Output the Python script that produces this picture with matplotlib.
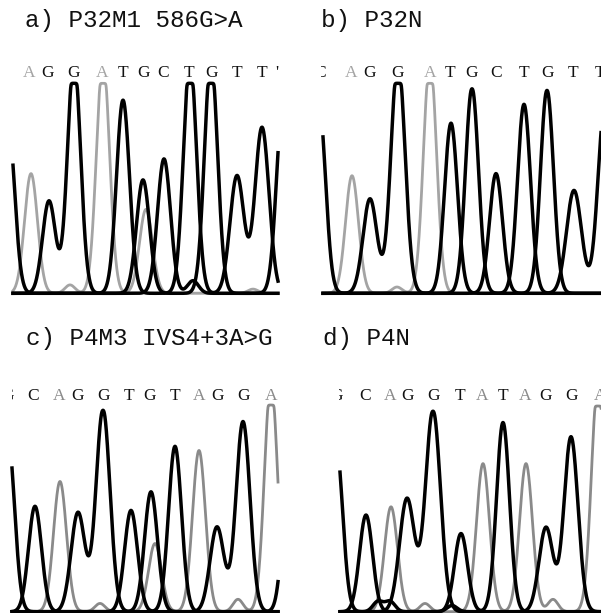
import numpy as np
import matplotlib
matplotlib.use("Agg")
import matplotlib.pyplot as plt

# ---------------- data ----------------
# peak positions are scan positions relative to the left end of each trace window
TITLES = ["a) P32M1 586G>A", "b) P32N", "c) P4M3 IVS4+3A>G", "d) P4N"]

A_PEAK_POS = [-5, 18, 36, 57, 61, 90, 110, 130, 133, 151, 177, 180, 198, 224, 240, 249, 270]
A_PEAK_HEIGHT = [0.82, 0.57, 0.44, 0.04, 1.12, 1.12, 0.92, 0.54, 0.40, 0.64, 1.12, 0.06, 1.12, 0.56, 0.02, 0.79, 0.90]
A_PEAK_WIDTH = [6.5, 6.5, 6.5, 5, 6.5, 6.5, 6.5, 6.5, 6.5, 6.5, 6.5, 5.5, 6.5, 7, 5, 7, 6.5]
A_PEAK_BASE = ["C", "A", "G", "A", "G", "A", "T", "G", "A", "C", "T", "C", "G", "T", "A", "T", "G"]
A_CALLS = ["A", "G", "G", "A", "T", "G", "C", "T", "G", "T", "T", "'"]
A_CALL_POS = [16, 35, 61, 89, 110, 130, 150, 176, 198, 224, 249, 264]

B_PEAK_POS = [-4, 29, 47, 74, 75, 107, 128, 149, 173, 201, 224, 251, 282]
B_PEAK_HEIGHT = [0.90, 0.56, 0.45, 0.03, 1.12, 1.12, 0.81, 0.98, 0.57, 0.90, 0.97, 0.49, 0.90]
B_PEAK_WIDTH = [6.5, 6.5, 7, 5, 7, 6.5, 6.5, 6.5, 6.5, 6.5, 6.5, 7.5, 7]
B_PEAK_BASE = ["C", "A", "G", "A", "G", "A", "T", "G", "C", "T", "G", "T", "T"]
B_CALLS = ["C", "A", "G", "G", "A", "T", "G", "C", "T", "G", "T", "T"]
B_CALL_POS = [-3, 28, 47, 75, 107, 127, 149, 173, 201, 224, 250, 277]

C_PEAK_POS = [-4, 23, 48, 66, 88, 91, 119, 139, 143, 163, 187, 205, 226, 231, 259, 278]
C_PEAK_HEIGHT = [0.84, 0.51, 0.63, 0.48, 0.04, 0.98, 0.49, 0.58, 0.33, 0.80, 0.78, 0.41, 0.06, 0.92, 1.12, 0.80]
C_PEAK_WIDTH = [6.5, 6.5, 6.5, 7, 5, 7, 6.5, 6.5, 6.5, 6.5, 6.5, 7, 5, 7, 6.5, 6.5]
C_PEAK_BASE = ["G", "C", "A", "G", "A", "G", "T", "G", "A", "T", "A", "G", "A", "G", "A", "T"]
C_CALLS = ["G", "C", "A", "G", "G", "T", "G", "T", "A", "G", "G", "A"]
C_CALL_POS = [-4, 21, 47, 66, 91, 117, 138, 163, 187, 205, 231, 259]

D_PEAK_POS = [-4, 26, 38, 50, 51, 67, 85, 93, 112, 121, 143, 163, 186, 206, 213, 231, 258]
D_PEAK_HEIGHT = [0.82, 0.47, 0.05, 0.05, 0.51, 0.55, 0.04, 0.98, 0.03, 0.38, 0.72, 0.92, 0.72, 0.41, 0.06, 0.85, 1.12]
D_PEAK_WIDTH = [6.5, 6.5, 5, 5, 6.5, 7.5, 5, 7.5, 5, 6.5, 6.5, 6.5, 6.5, 7, 5, 7, 6.5]
D_PEAK_BASE = ["G", "C", "T", "T", "A", "G", "A", "G", "C", "T", "A", "T", "A", "G", "A", "G", "A"]
D_CALLS = ["G", "C", "A", "G", "G", "T", "A", "T", "A", "G", "G", "A"]
D_CALL_POS = [-4, 25, 50, 67, 93, 120, 142, 163, 185, 205, 232, 260]

CHANNELS = ["A", "C", "G", "T"]

# ---------------- layout (pixels in a 601 x 613 image) ----------------
W, H = 601, 613
fig = plt.figure(figsize=(W / 100, H / 100), dpi=100)
fig.patch.set_facecolor("white")

panels = [
    dict(title=TITLES[0], pos=A_PEAK_POS, h=A_PEAK_HEIGHT, w=A_PEAK_WIDTH, b=A_PEAK_BASE,
         calls=A_CALLS, cpos=A_CALL_POS, left=13, right=278, base=293.3, top=83.3,
         cl=11, cr=280, cbase=77.3, tx=25, ty=27, gray="#a4a4a4"),
    dict(title=TITLES[1], pos=B_PEAK_POS, h=B_PEAK_HEIGHT, w=B_PEAK_WIDTH, b=B_PEAK_BASE,
         calls=B_CALLS, cpos=B_CALL_POS, left=323, right=601, base=293.3, top=83.3,
         cl=321, cr=601, cbase=77.3, tx=321, ty=27, gray="#a4a4a4"),
    dict(title=TITLES[2], pos=C_PEAK_POS, h=C_PEAK_HEIGHT, w=C_PEAK_WIDTH, b=C_PEAK_BASE,
         calls=C_CALLS, cpos=C_CALL_POS, left=12, right=278, base=611.7, top=405,
         cl=11.5, cr=280, cbase=400, tx=26, ty=345, gray="#8a8a8a"),
    dict(title=TITLES[3], pos=D_PEAK_POS, h=D_PEAK_HEIGHT, w=D_PEAK_WIDTH, b=D_PEAK_BASE,
         calls=D_CALLS, cpos=D_CALL_POS, left=340, right=601, base=611.7, top=406,
         cl=339, cr=601, cbase=400, tx=323, ty=345, gray="#8a8a8a"),
]


def px_axes(left, right, top, bottom):
    return fig.add_axes([left / W, 1 - bottom / H, (right - left) / W, (bottom - top) / H])


def channel_trace(x, pos, h, w, b, ch):
    y = np.zeros_like(x)
    for p, hh, ww, bb in zip(pos, h, w, b):
        if bb == ch:
            y += hh * np.exp(-0.5 * ((x - p) / ww) ** 2)
    # detector saturation: soft ceiling at full scale
    k = 0.02
    return -k * np.logaddexp(-y / k, -1.0 / k)


for P in panels:
    width = P["right"] - P["left"]
    ax = px_axes(P["left"], P["right"], P["top"], P["base"])
    ax.set_xlim(0, width)
    ax.set_ylim(0, 1)
    ax.axis("off")
    x = np.linspace(0, width, 2000)
    # baseline
    ax.plot([0, width], [0, 0], color="black", lw=1.5, clip_on=False, zorder=1)
    for ch in CHANNELS:
        y = np.maximum(channel_trace(x, P["pos"], P["h"], P["w"], P["b"], ch), 0)
        if ch == "A":
            ax.plot(x, y, color=P["gray"], lw=2.0, clip_on=False, zorder=2,
                    solid_joinstyle="round")
        else:
            ax.plot(x, y, color="black", lw=2.5, clip_on=False, zorder=3,
                    solid_joinstyle="round")

    # base-call row (clipped at its own edges)
    lax = px_axes(P["cl"], P["cr"], P["cbase"] - 22, P["cbase"] + 6)
    off = P["cl"] - P["left"]
    lax.set_xlim(off, off + (P["cr"] - P["cl"]))
    lax.set_ylim(-6, 22)
    lax.axis("off")
    for letter, cp in zip(P["calls"], P["cpos"]):
        col = P["gray"] if letter == "A" else "#111111"
        lax.text(cp, 0, letter, ha="center", va="baseline", fontsize=12.5,
                 family="Liberation Serif", color=col, clip_on=True)

    fig.text(P["tx"] / W, 1 - P["ty"] / H, P["title"], ha="left", va="baseline",
             fontsize=17.5, family="Liberation Mono", color="#111111")

fig.savefig("out.png", dpi=100, facecolor="white")
